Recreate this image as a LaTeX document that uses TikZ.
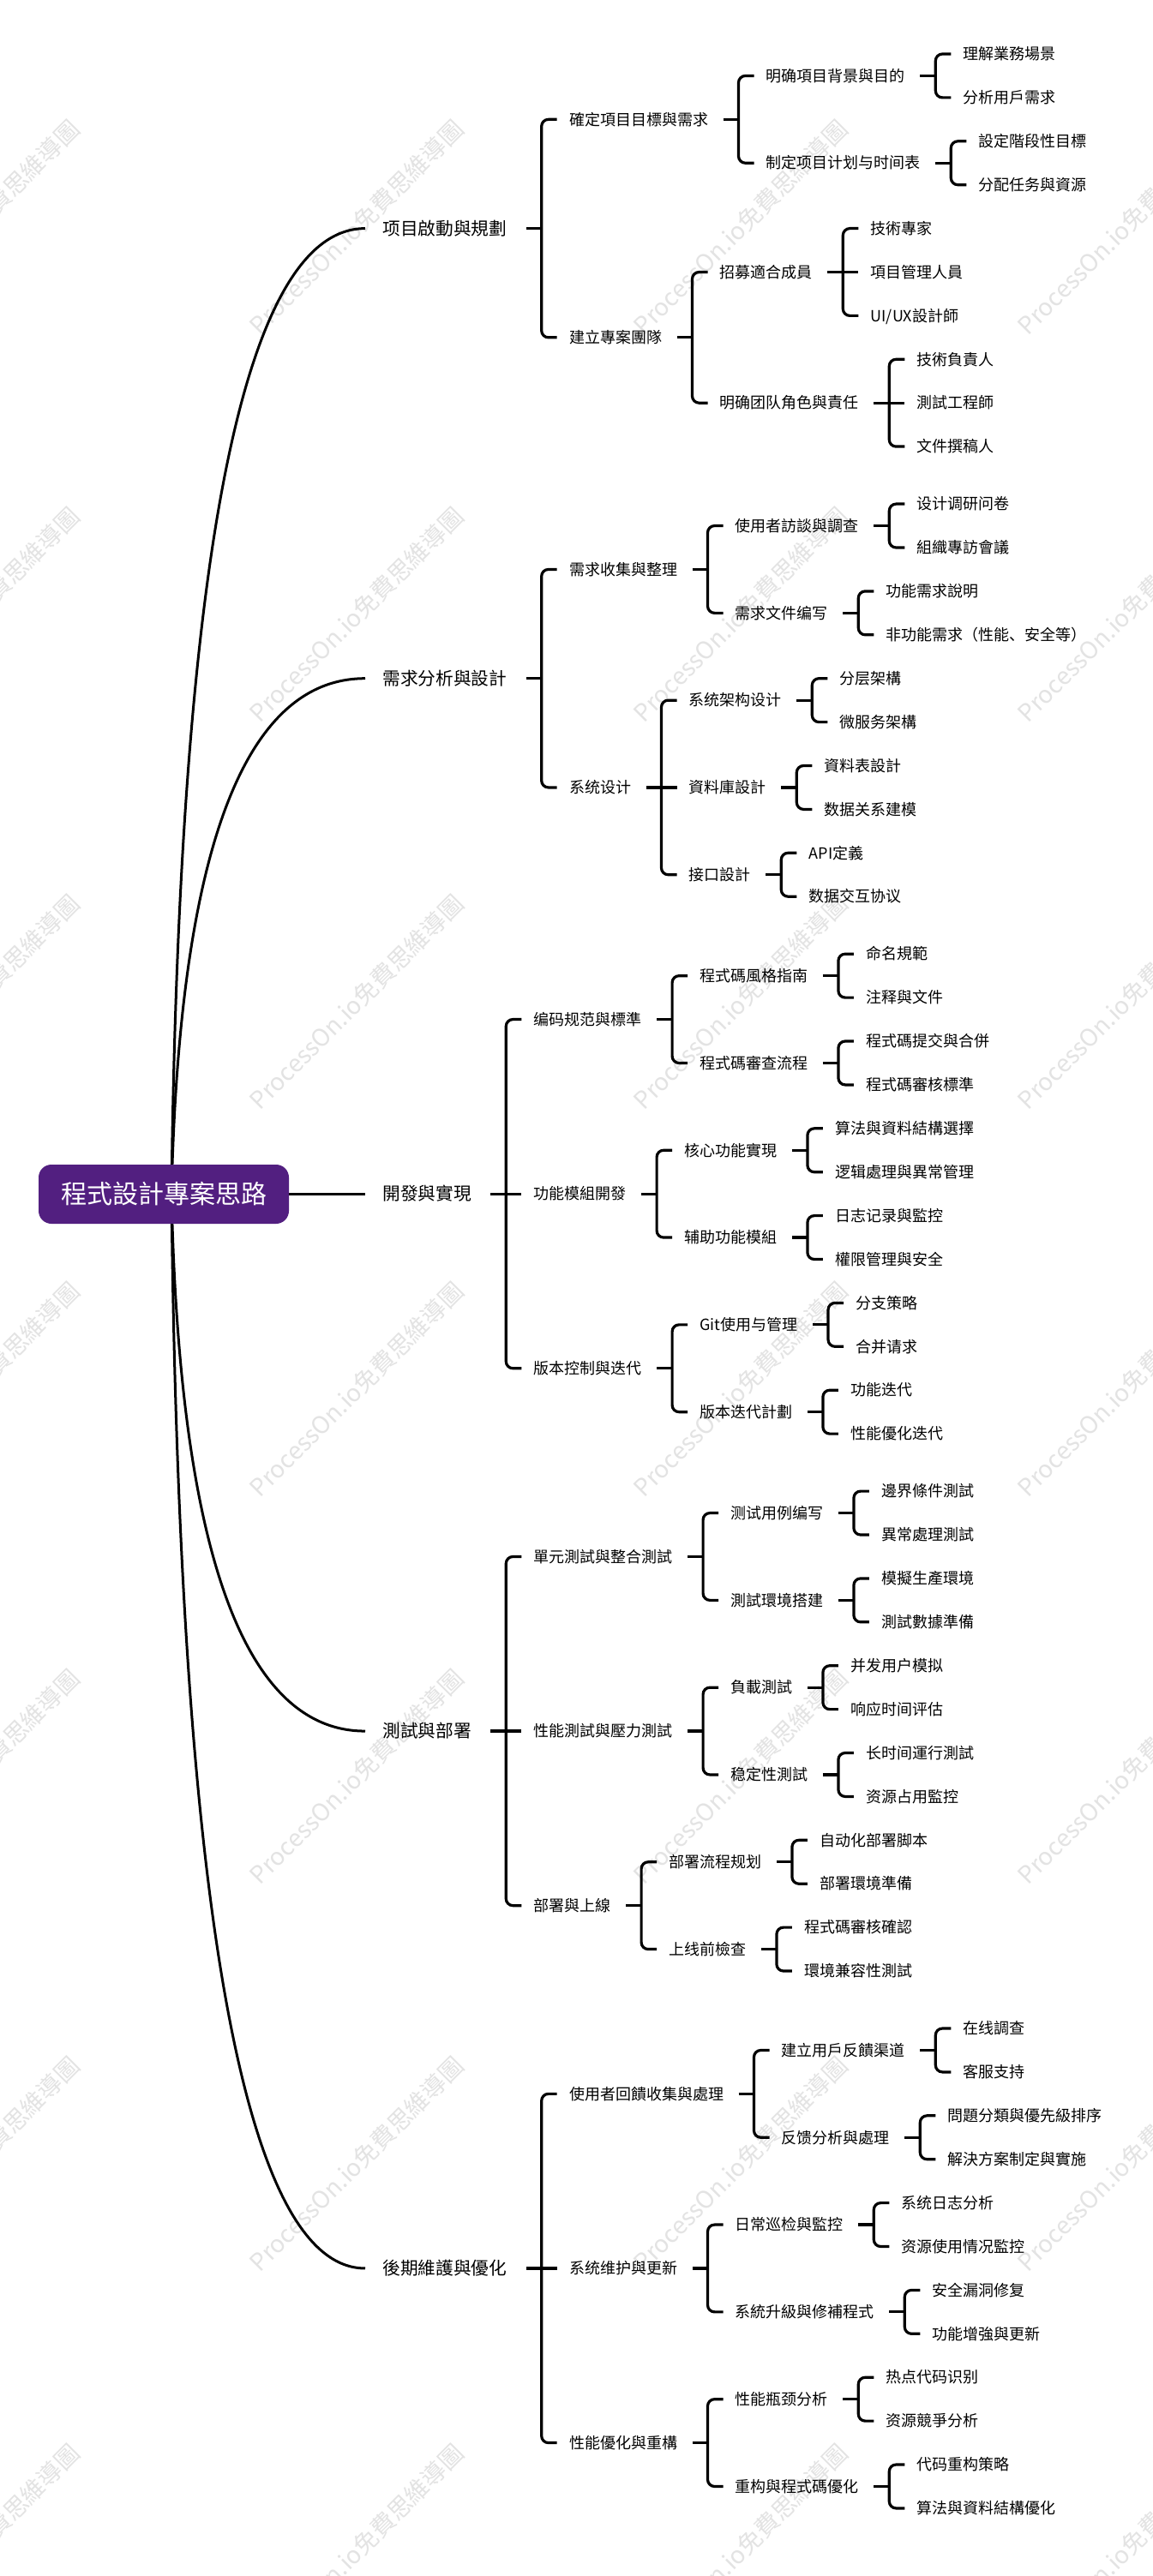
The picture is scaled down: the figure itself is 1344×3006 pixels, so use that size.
\documentclass[tikz,border=0pt]{standalone}
\usepackage{fontspec}
\setmainfont{Noto Sans CJK SC}
\usetikzlibrary{calc}
\definecolor{rootpurple}{RGB}{82,31,128}
\newcommand\mmkid[5]{% gap, name, parent, y, text
  \path ($(#3.east)+(#1,0)$) coordinate (kidx);
  \coordinate (kidy) at (0,#4);
  \node[lf] (#2) at (kidx |- kidy) {#5};
}
\newcommand\mmfork[5]{% stub start, bracket offset, parent, first child, last child
  \coordinate (fb) at ($(#3.east)+(#2,0)$);
  \draw[ln] ($(#3.east)+(#1,0)$) -- (fb);
  \draw[ln, rounded corners=4pt] ($(#4.west)+(-14,0)$) -- (fb |- #4.west) -- (fb |- #5.west) -- ($(#5.west)+(-14,0)$);
}
\newcommand\mmarm[1]{\draw[ln] (fb |- #1.west) -- ($(#1.west)+(-14,0)$);}
\begin{document}
\begin{tikzpicture}[x=0.5pt,y=-0.5pt,
  ln/.style={line width=1.6pt, draw=black, line cap=butt},
  lnone/.style={line width=1.5pt, draw=black},
  lf/.style={font=\fontsize{9}{9}\selectfont, inner sep=0pt, text height=7.65pt, text depth=0.9pt, anchor=west},
  lone/.style={font=\fontsize{10.35}{10.35}\selectfont, inner sep=0pt, text height=8.8pt, text depth=1.04pt, anchor=west},
  rootbox/.style={fill=rootpurple, text=white, rounded corners=7.5pt, minimum width=146pt, minimum height=34.5pt, inner sep=0pt, font=\fontsize{15}{15}\selectfont},
  wm/.style={text=black!11, rotate=45, inner sep=0pt, font=\fontsize{14}{14}\selectfont}
]
\useasboundingbox[fill=white] (0,0) rectangle (1344,3006);
% watermark
\foreach \i in {0,1,2,3} {
  \foreach \j in {0,1,2,3,4,5,6} {
    \node[wm] (wm\i\j) at ({-32+448*\i},{265+452*\j}) {ProcessOn.io免費思維導圖};
  }
}
% level 1 nodes
\node[lone] (a) at (446,266.6) {项目啟動與規劃};
\node[lone] (b) at (446,791.7) {需求分析與設計};
\node[lone] (c) at (446,1393.15) {開發與實現};
\node[lone] (d) at (446,2020.05) {測試與部署};
\node[lone] (e) at (446,2646.95) {後期維護與優化};
\coordinate (rc) at (200,1393.15);
\draw[lnone] (rc) .. controls (209.3,642.1) and (284.7,266.6) .. ($(a.west)+(-20,0)$);
\draw[lnone] (rc) .. controls (209.3,992.2) and (284.7,791.7) .. ($(b.west)+(-20,0)$);
\draw[lnone] (rc) -- ($(c.west)+(-20,0)$);
\draw[lnone] (rc) .. controls (209.3,1811.1) and (284.7,2020.05) .. ($(d.west)+(-20,0)$);
\draw[lnone] (rc) .. controls (209.3,2229.0) and (284.7,2646.95) .. ($(e.west)+(-20,0)$);
\node[rootbox] (root) at (191,1393.5) {程式設計專案思路};

% ===== Section 1 =====
\mmkid{72}{a1}{a}{139.35}{確定項目目標與需求}
\mmkid{72}{a2}{a}{393.85}{建立專案團隊}
\mmfork{22}{40}{a}{a1}{a2}
\mmkid{67}{a11}{a1}{88.45}{明确項目背景與目的}
\mmkid{67}{a12}{a1}{190.25}{制定项目计划与时间表}
\mmfork{17}{35}{a1}{a11}{a12}
\mmkid{67}{a21}{a2}{317.5}{招募適合成員}
\mmkid{67}{a22}{a2}{470.2}{明确团队角色與責任}
\mmfork{17}{35}{a2}{a21}{a22}
\mmkid{67}{a111}{a11}{63}{理解業務場景}
\mmkid{67}{a112}{a11}{113.9}{分析用戶需求}
\mmfork{17}{35}{a11}{a111}{a112}
\mmkid{67}{a121}{a12}{164.8}{設定階段性目標}
\mmkid{67}{a122}{a12}{215.7}{分配任务與資源}
\mmfork{17}{35}{a12}{a121}{a122}
\mmkid{67}{a211}{a21}{266.6}{技術專家}
\mmkid{67}{a212}{a21}{317.5}{項目管理人員}
\mmkid{67}{a213}{a21}{368.4}{UI/UX設計師}
\mmfork{17}{35}{a21}{a211}{a213}
\mmarm{a212}
\mmkid{67}{a221}{a22}{419.3}{技術負責人}
\mmkid{67}{a222}{a22}{470.2}{測試工程師}
\mmkid{67}{a223}{a22}{521.1}{文件撰稿人}
\mmfork{17}{35}{a22}{a221}{a223}
\mmarm{a222}

% ===== Section 2 =====
\mmkid{72}{b1}{b}{664.45}{需求收集與整理}
\mmkid{72}{b2}{b}{918.95}{系统设计}
\mmfork{22}{40}{b}{b1}{b2}
\mmkid{67}{b11}{b1}{613.55}{使用者訪談與調查}
\mmkid{67}{b12}{b1}{715.35}{需求文件编写}
\mmfork{17}{35}{b1}{b11}{b12}
\mmkid{67}{b21}{b2}{817.15}{系统架构设计}
\mmkid{67}{b22}{b2}{918.95}{資料庫設計}
\mmkid{67}{b23}{b2}{1020.75}{接口設計}
\mmfork{17}{35}{b2}{b21}{b23}
\mmarm{b22}
\mmkid{67}{b111}{b11}{588.1}{设计调研问卷}
\mmkid{67}{b112}{b11}{639.0}{組織專訪會議}
\mmfork{17}{35}{b11}{b111}{b112}
\mmkid{67}{b121}{b12}{689.9}{功能需求說明}
\mmkid{67}{b122}{b12}{740.8}{非功能需求（性能、安全等）}
\mmfork{17}{35}{b12}{b121}{b122}
\mmkid{67}{b211}{b21}{791.7}{分层架構}
\mmkid{67}{b212}{b21}{842.6}{微服务架構}
\mmfork{17}{35}{b21}{b211}{b212}
\mmkid{67}{b221}{b22}{893.5}{資料表設計}
\mmkid{67}{b222}{b22}{944.4}{数据关系建模}
\mmfork{17}{35}{b22}{b221}{b222}
\mmkid{67}{b231}{b23}{995.3}{API定義}
\mmkid{67}{b232}{b23}{1046.2}{数据交互协议}
\mmfork{17}{35}{b23}{b231}{b232}

% ===== Section 3 =====
\mmkid{72}{c1}{c}{1189.55}{编码规范與標準}
\mmkid{72}{c2}{c}{1393.15}{功能模組開發}
\mmkid{72}{c3}{c}{1596.75}{版本控制與迭代}
\mmfork{22}{40}{c}{c1}{c3}
\mmarm{c2}
\mmkid{67}{c11}{c1}{1138.65}{程式碼風格指南}
\mmkid{67}{c12}{c1}{1240.45}{程式碼審查流程}
\mmfork{17}{35}{c1}{c11}{c12}
\mmkid{67}{c21}{c2}{1342.25}{核心功能實現}
\mmkid{67}{c22}{c2}{1444.05}{辅助功能模組}
\mmfork{17}{35}{c2}{c21}{c22}
\mmkid{67}{c31}{c3}{1545.85}{Git使用与管理}
\mmkid{67}{c32}{c3}{1647.65}{版本迭代計劃}
\mmfork{17}{35}{c3}{c31}{c32}
\mmkid{67}{c111}{c11}{1113.2}{命名規範}
\mmkid{67}{c112}{c11}{1164.1}{注释與文件}
\mmfork{17}{35}{c11}{c111}{c112}
\mmkid{67}{c121}{c12}{1215.0}{程式碼提交與合併}
\mmkid{67}{c122}{c12}{1265.9}{程式碼審核標準}
\mmfork{17}{35}{c12}{c121}{c122}
\mmkid{67}{c211}{c21}{1316.8}{算法與資料結構選擇}
\mmkid{67}{c212}{c21}{1367.7}{逻辑處理與異常管理}
\mmfork{17}{35}{c21}{c211}{c212}
\mmkid{67}{c221}{c22}{1418.6}{日志记录與監控}
\mmkid{67}{c222}{c22}{1469.5}{權限管理與安全}
\mmfork{17}{35}{c22}{c221}{c222}
\mmkid{67}{c311}{c31}{1520.4}{分支策略}
\mmkid{67}{c312}{c31}{1571.3}{合并请求}
\mmfork{17}{35}{c31}{c311}{c312}
\mmkid{67}{c321}{c32}{1622.2}{功能迭代}
\mmkid{67}{c322}{c32}{1673.1}{性能優化迭代}
\mmfork{17}{35}{c32}{c321}{c322}

% ===== Section 4 =====
\mmkid{72}{d1}{d}{1816.45}{單元測試與整合測試}
\mmkid{72}{d2}{d}{2020.05}{性能測試與壓力測試}
\mmkid{72}{d3}{d}{2223.65}{部署與上線}
\mmfork{22}{40}{d}{d1}{d3}
\mmarm{d2}
\mmkid{67}{d11}{d1}{1765.55}{测试用例编写}
\mmkid{67}{d12}{d1}{1867.35}{測試環境搭建}
\mmfork{17}{35}{d1}{d11}{d12}
\mmkid{67}{d21}{d2}{1969.15}{負載測試}
\mmkid{67}{d22}{d2}{2070.95}{稳定性測試}
\mmfork{17}{35}{d2}{d21}{d22}
\mmkid{67}{d31}{d3}{2172.75}{部署流程规划}
\mmkid{67}{d32}{d3}{2274.55}{上线前檢查}
\mmfork{17}{35}{d3}{d31}{d32}
\mmkid{67}{d111}{d11}{1740.1}{邊界條件測試}
\mmkid{67}{d112}{d11}{1791.0}{異常處理測試}
\mmfork{17}{35}{d11}{d111}{d112}
\mmkid{67}{d121}{d12}{1841.9}{模擬生產環境}
\mmkid{67}{d122}{d12}{1892.8}{測試數據準備}
\mmfork{17}{35}{d12}{d121}{d122}
\mmkid{67}{d211}{d21}{1943.7}{并发用户模拟}
\mmkid{67}{d212}{d21}{1994.6}{响应时间评估}
\mmfork{17}{35}{d21}{d211}{d212}
\mmkid{67}{d221}{d22}{2045.5}{长时间運行測試}
\mmkid{67}{d222}{d22}{2096.4}{资源占用監控}
\mmfork{17}{35}{d22}{d221}{d222}
\mmkid{67}{d311}{d31}{2147.3}{自动化部署脚本}
\mmkid{67}{d312}{d31}{2198.2}{部署環境準備}
\mmfork{17}{35}{d31}{d311}{d312}
\mmkid{67}{d321}{d32}{2249.1}{程式碼審核確認}
\mmkid{67}{d322}{d32}{2300.0}{環境兼容性測試}
\mmfork{17}{35}{d32}{d321}{d322}

% ===== Section 5 =====
\mmkid{72}{e1}{e}{2443.35}{使用者回饋收集與處理}
\mmkid{72}{e2}{e}{2646.95}{系统维护與更新}
\mmkid{72}{e3}{e}{2850.55}{性能優化與重構}
\mmfork{22}{40}{e}{e1}{e3}
\mmarm{e2}
\mmkid{67}{e11}{e1}{2392.45}{建立用戶反饋渠道}
\mmkid{67}{e12}{e1}{2494.25}{反馈分析與處理}
\mmfork{17}{35}{e1}{e11}{e12}
\mmkid{67}{e21}{e2}{2596.05}{日常巡检與監控}
\mmkid{67}{e22}{e2}{2697.85}{系統升級與修補程式}
\mmfork{17}{35}{e2}{e21}{e22}
\mmkid{67}{e31}{e3}{2799.65}{性能瓶颈分析}
\mmkid{67}{e32}{e3}{2901.45}{重构與程式碼優化}
\mmfork{17}{35}{e3}{e31}{e32}
\mmkid{67}{e111}{e11}{2367.0}{在线調查}
\mmkid{67}{e112}{e11}{2417.9}{客服支持}
\mmfork{17}{35}{e11}{e111}{e112}
\mmkid{67}{e121}{e12}{2468.8}{問題分類與優先級排序}
\mmkid{67}{e122}{e12}{2519.7}{解決方案制定與實施}
\mmfork{17}{35}{e12}{e121}{e122}
\mmkid{67}{e211}{e21}{2570.6}{系统日志分析}
\mmkid{67}{e212}{e21}{2621.5}{资源使用情况監控}
\mmfork{17}{35}{e21}{e211}{e212}
\mmkid{67}{e221}{e22}{2672.4}{安全漏洞修复}
\mmkid{67}{e222}{e22}{2723.3}{功能增強與更新}
\mmfork{17}{35}{e22}{e221}{e222}
\mmkid{67}{e311}{e31}{2774.2}{热点代码识别}
\mmkid{67}{e312}{e31}{2825.1}{资源競爭分析}
\mmfork{17}{35}{e31}{e311}{e312}
\mmkid{67}{e321}{e32}{2876.0}{代码重构策略}
\mmkid{67}{e322}{e32}{2926.9}{算法與資料結構優化}
\mmfork{17}{35}{e32}{e321}{e322}
\end{tikzpicture}
\end{document}
